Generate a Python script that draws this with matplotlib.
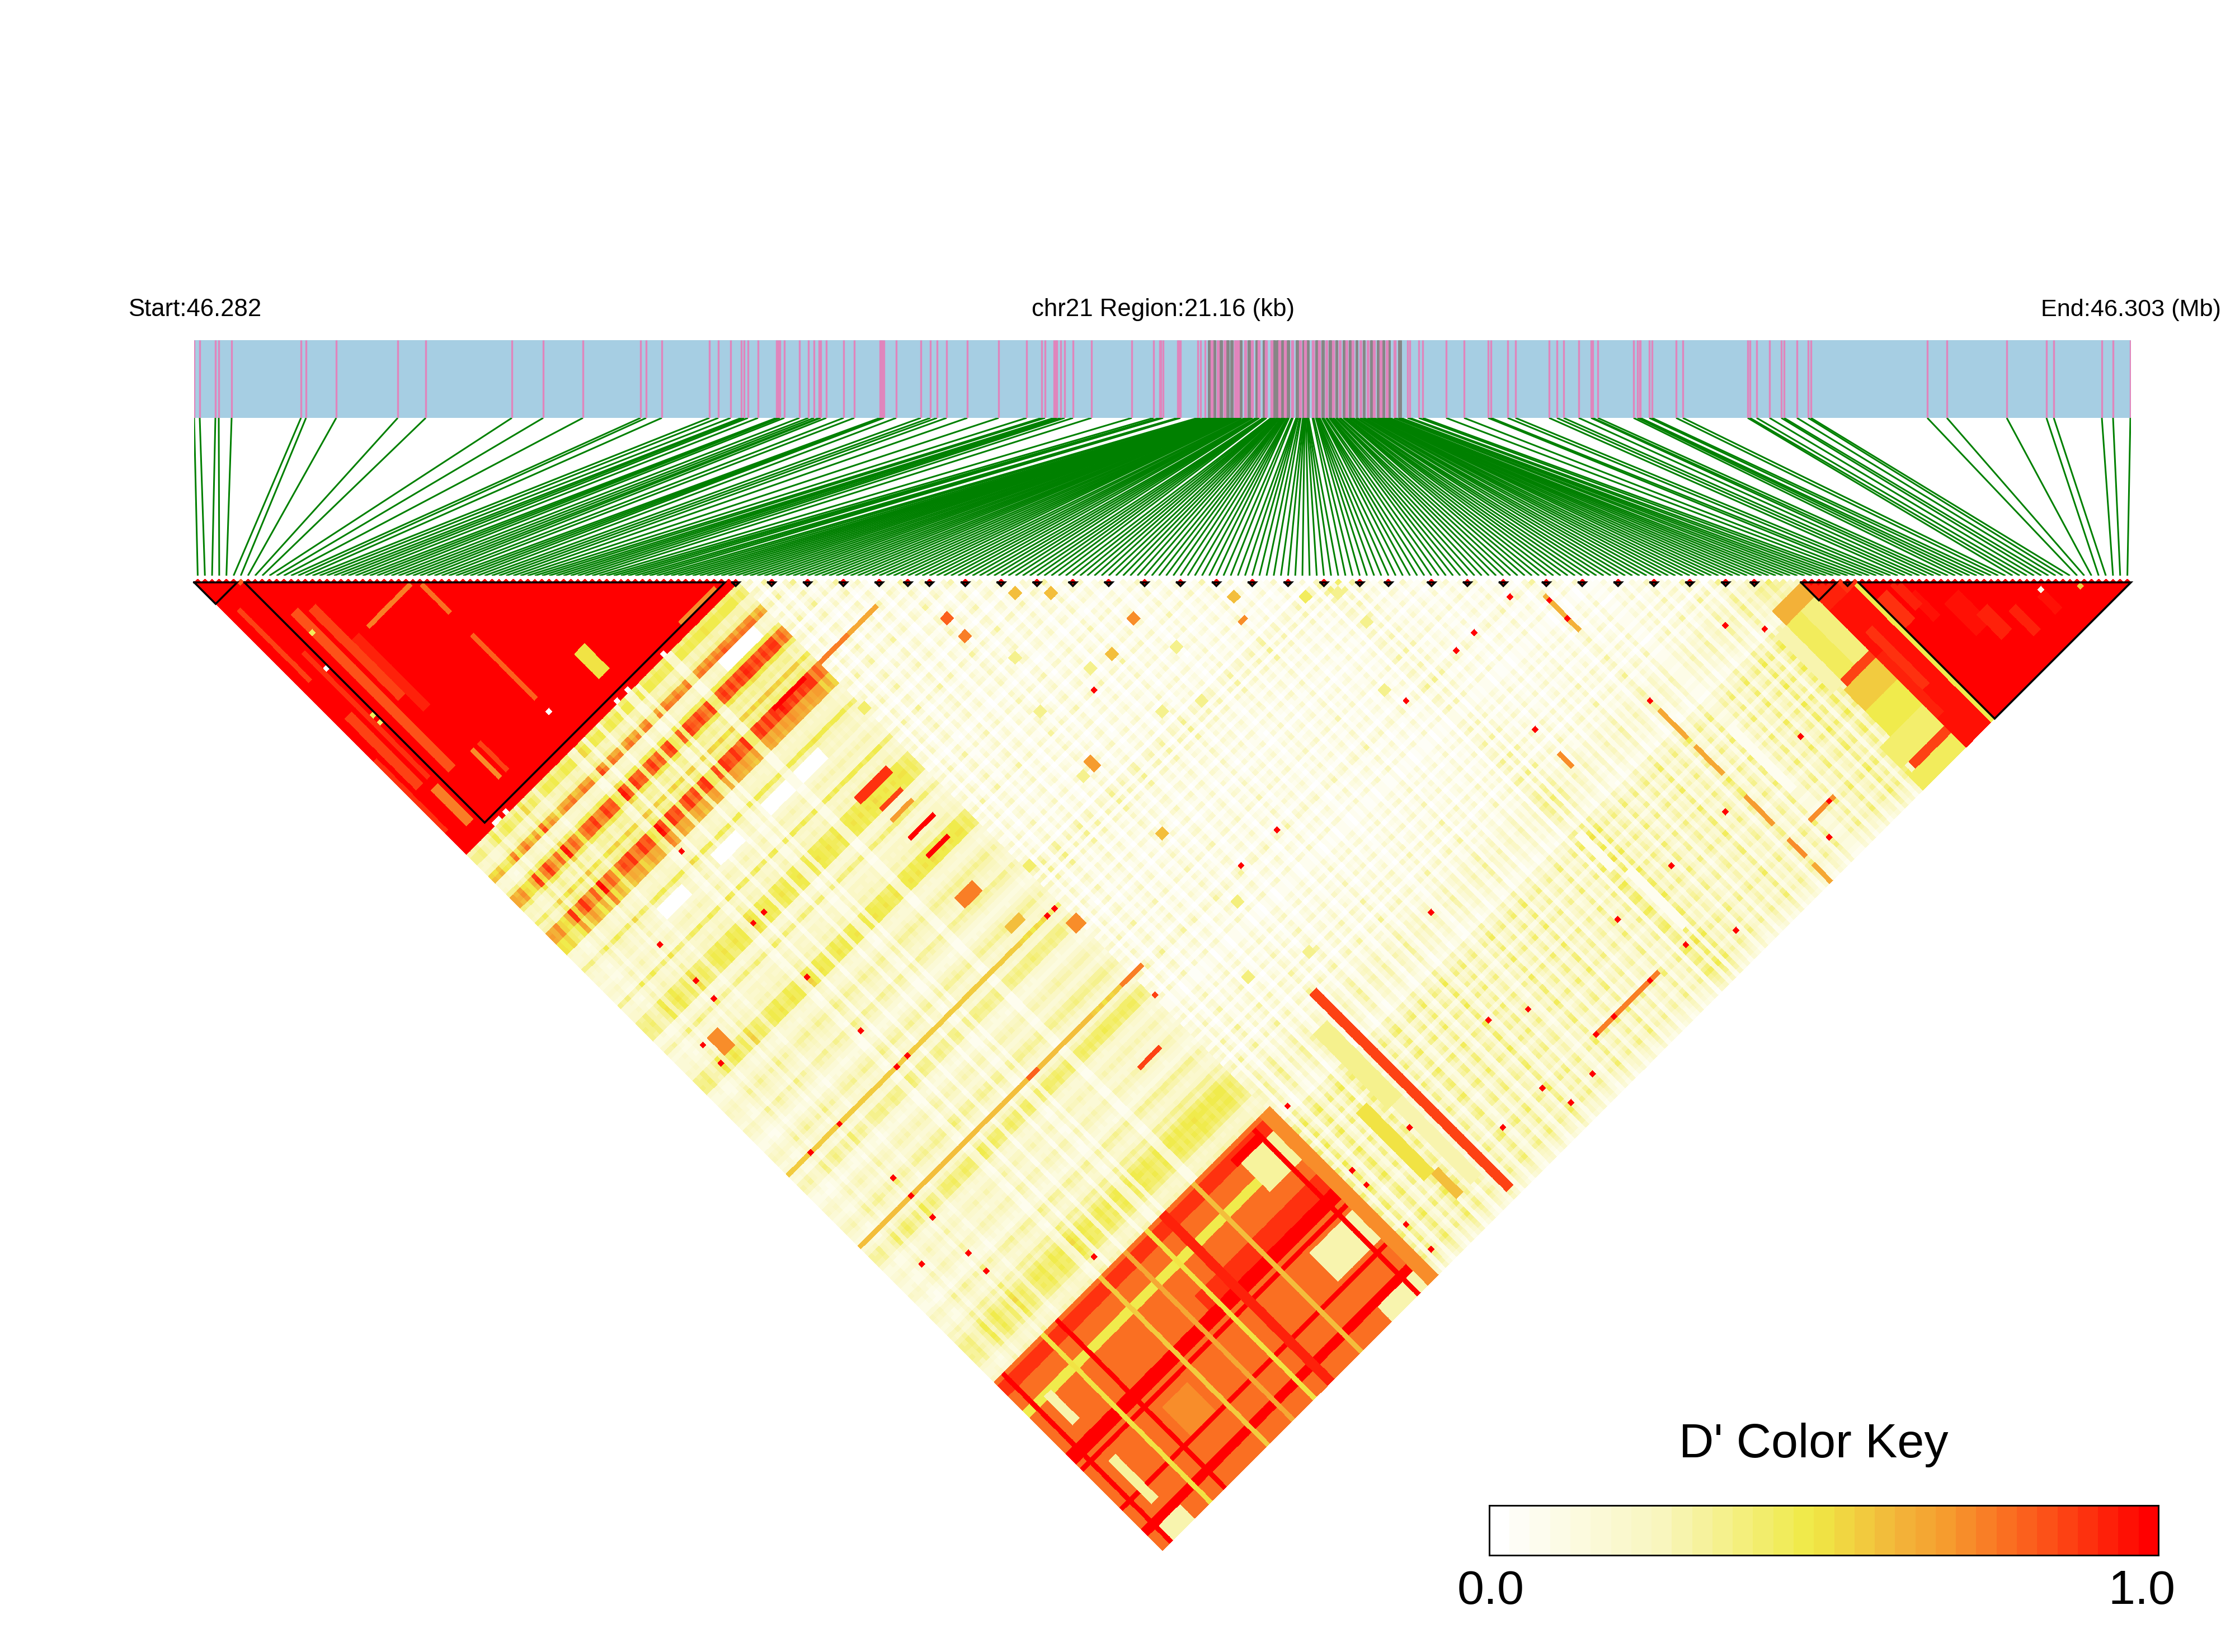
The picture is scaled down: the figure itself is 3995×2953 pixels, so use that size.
import numpy as np
import matplotlib
matplotlib.use("Agg")
import matplotlib.pyplot as plt
from matplotlib.colors import LinearSegmentedColormap
from matplotlib.collections import LineCollection

plt.rcParams['font.family'] = ['Liberation Sans', 'DejaVu Sans']

W, H = 3995, 2953
N_SNP = 270
MAP_UNITS = 3462          # map length; 1 unit is about 6 bp of the 21.16 kb region

# SNP map positions
snp_left = [0,10,38,44,67,191,200,254,364,414,568,624,695,798,808,836,
            921,937,959,978,983,990,1008,1041,1044,1047,1055,1082,1098,1108,1117,1120,1130,1161,1180,
            1226,1228,1230,1233,1255,1299,1316,1328,1345,1382,1438,1488,1515,1521,1537,1540,1542,1549,
            1556,1571,1604,1676,1715,1726,1728,1732,1758,1760,1763,1794,1799,1807]
dense_pink = [1818,1820,1829,1831,1841,1843,1860,1862,1865,1867,1878,1880,1890,1892,1902,1904,
              1915,1917,1925,1927,1939,1941,1949,1951,1962,1964,1976,1978,1985,1987,1999,2001,
              2010,2012,2023,2025,2035,2037,2047,2049,2059,2061,2070,2072,2084,2086,2097,2099,
              2108,2110,2120,2122,2131,2133,2145,2147]
dense_grey = [1813,1814,1815,1816, 1822,1823,1824,1825, 1834,1835,1836,1837, 1846,1847,1848,1849,
              1853,1854,1855,1856, 1869,1870,1871,1872, 1884,1885,1886,1887, 1898,1899,1900,1901,
              1911,1912,1913,1914, 1929,1930,1931,1932, 1935,1936,1937,1938, 1944,1945,1946,1947,
              1954,1955,1956,1957, 1970,1971,1972,1973, 1982,1983,1984,
              1989,1990,1991,1992, 2005,2006,2007,2008, 2016,2017,2018,2019, 2029,2030,2031,2032, 2041,2042,2043,
              2054,2055,2056, 2065,2066,2067, 2077,2078,2079, 2090,2091,2092, 2103,2104,2105,
              2115,2116,2117, 2125,2126,2127, 2135,2136,2137, 2153,2155,2157]
snp_right = [2169,2173,2189,2196,2238,2270,2313,2318,2348,2362,2422,2436,2448,2475,2497,2500,2509,
             2573,2580,2584,2585,2601,2606,2649,2661,2777,2781,2793,2816,2837,2842,2865,2885,2890,
             3098,3133,3240,3311,3324,3410,3430,3461]

# Per-SNP levels
mid_level = [.40,.48,.48,.30,.28,.35,.70,.78,.25,.22, .25,.48,.85,.88,.85,.50,.32,.34,.30,.55,
             .35,.40,.88,.90,.88,.68,.68,.66,.25,.22, .24,.26,.48,.30,.25,.22,.25,.18,.22,.28,
             .24,.20,.46,.24,.22,.28,.26,.46,.48,.50, .48,.46,.20,.18,.26,.40,.22,.18,.24,.22,
             .24,.30,.26,.46,.48,.50,.48,.24,.20,.18, .22,.28,.34,.30,.26,.22,.20,.34,.30,.24,
             .18,.14,.16,.24,.30,.34,.26,.20,.22,.52, .24,.20,.36,.38,.34,.20,.16,.14,.20,.26,
             .30,.24,.18,.22,.32,.36,.28,.22,.18,.56, .22,.30,.42,.44,.40,.26,.20,.18,.24,.28,
             .22,.18,.20,.30,.26,.20,.16,.14,.22,.34, .30,.22,.20,.24,.36,.30,.40,.46,.48,.44,
             .46,.44,.38,.26,.22,.24,.30]
left_factor = [.75,.7,.8,.6,.55,.7,1.0,.6,.85,1.0, .85,.7,.9,.6,1.1,.75,.9,.8,.55,.85,
               .95,.9,1.0,.8,.85,1.0,.9,.95,.55,.45, 1.1,.95,.45,1.0,.9,.95,.45,.9,1,.85,
               .95,.45,.95,1.0,.5,.45,.95,.45,1,.95, .9,1,.9,.85,1.0,.45,.45,.95,1,.9,
               1,.9,1,.95,1.05,1,.95,1,.9,1, .95,1,1,.8,.9,.8]
center_level = [.55,.62,.35,.7,.5,.3,.6,.72,.45,.35, .62,.4,.55,.7,.3,.5,.65,.42,.28,.6,
                .5,.38,.7,.55,.32,.62,.48,.3,.58,.68, .4,.3,.55,.62,.35,.5,.66,.42,.28,.6,
                .52,.36,.7,.45,.3,.58,.46,.62,.32,.5, .6,.38,.28,.55,.42,.66,.34,.48,.58,.3,
                .5,.62,.36,.44,.68,.3,.52,.4,.6,.28, .46,.56,.34,.42,.62,.3,.5,.38,.58,.26,
                .66,.72,.4,.75,.3,.7,.42,.55,.34,.6, .5,.3,.62,.44,.36,.58,.28,.48,.6,.34,
                .52,.42,.66,.3,.5,.38,.6,.46,.28,.56, .7,.4,.32,.58,.48,.3,.62,.35,.35,.35,
                .54,.4,.62,.3,.52,.44,.66,.34,.5,.58, .36,.7,.46,.62,.3,.56,.72,.42,.6,.5,
                .66,.7,.62,.75,.68,.7,.6,.66,.55,.5,.45]
right_level = [.7,.6,.8,.9,.6,.7,.85,.5,.75,.9,.6,.7,.8,.55,.9,.75,.6,.8,.85,.65,.7,.9,.75,.55,.7,.8,
               .85,.6,.7,.75,.55,.8,.9,.65,.7,.8,.6,.75,.85,.7,.65,.6,.5]

# Regions and stripes (first SNP, end SNP, first SNP, end SNP, D')
block_patches = [
    (9,11,18,62,.82),(12,14,20,45,.86),(5,6,25,60,.88),(2,3,10,30,.85),(4,6,62,72,.75),(14,16,30,50,.92),
    (2,4,40,60,.86),(0,1,50,70,.9),
    (43,46,63,70,.5),(18,30,30,31,.75),(31,32,32,40,.78),(31,32,46,64,.8),(15,16,62,70,.72),(17,18,62,70,.85),
    (62,72,73,74,.72),
    (19,26,110,113,.02),(34,41,110,113,.02),(48,55,110,113,.02),(57,64,110,113,.02),(62,72,84,87,.03),
    (0,77,223,270,.77),(0,77,224,227,.88),(40,77,239,243,.88),(0,77,243,246,1.0),(0,77,264,266,1.0),
    (64,71,225,227,1.0),(0,74,258,259,1.0),(0,77,247,248,1.0),(0,77,231,233,.48),(62,74,249,257,.3),
    (65,74,227,235,.32),(64,74,266,270,.3),(3,9,266,270,.3),(5,7,232,240,.3),(5,7,250,262,.32),
    (13,14,223,270,.5),(29,30,223,270,.55),(42,43,223,270,.5),(55,56,223,270,.6),(36,37,223,270,.66),
    (20,27,250,258,.7),(74,77,223,270,.7),(71,72,224,270,1.0),(17,18,223,270,1.0),(2,3,223,270,1.0),
    (46,48,223,270,.92),
    (88,91,236,255,.5),(90,92,255,262,.6),(93,97,219,240,.36),(94,97,240,262,.28),(98,100,213,268,.86),
    (216,224,224,228,.62),(213,216,228,244,.3),(216,220,228,244,.45),(220,224,228,244,.38),
    (216,224,243,245,.85),(215,224,245,251,.55),(215,224,251,258,.46),
    (212,224,258,264,.42),(214,224,264,266,.86),(212,224,266,270,.45),(224,232,232,270,.95),
    (226,228,240,256,.88),(224,226,245,262,.92),
    (231,232,232,270,.48),(224,229,224,232,.92),(229,232,229,232,.9),
    (241,245,247,256,.94),(244,247,253,260,.93),(249,251,257,264,.93),(237,239,241,248,.94),
    (255,257,259,264,.94),(236,238,236,244,.93),(232,235,237,245,.9),
    (193,195,234,252,.08),(159,161,240,256,.08),(157,159,228,238,.08),
    (62,71,122,124,.88),(64,70,127,128,.86),(64,70,130,131,.68),(64,71,135,136,1.0),(64,70,140,141,1.0),
    (62,67,150,153,.75),(65,69,161,163,.6),(64,70,199,200,.86),(63,72,98,99,1.0),(76,84,98,99,.75),
    (84,92,98,99,.65),(8,11,135,140,.72),(74,77,169,172,.7),(99,101,149,152,.68),(125,127,135,137,.7),
    (140,142,151,152,.7),(112,114,115,117,.58),(117,119,120,122,.6),(142,144,146,148,.58),
    (152,154,156,158,.45),(99,101,114,116,.75),(99,101,109,111,.8),(99,101,169,171,.6),(117,119,137,139,.6),
    (0,64,165,166,.55),(0,64,185,186,.58),(47,50,185,186,.8),(73,79,185,186,.75),
    (186,187,190,200,.62),(186,187,222,230,.65),(186,187,232,240,.65),(186,187,246,254,.68),
    (186,187,258,263,.7),(186,187,265,270,.65),(166,167,214,218,.7),(132,150,258,259,.75),(192,199,258,259,.7),
    (99,101,135,137,.34),(123,125,156,158,.34),(127,129,145,147,.34),(112,114,136,138,.34),(103,105,124,126,.34),
    (116,118,152,154,.34),(157,159,160,162,.34),(157,159,168,170,.34),(150,152,180,182,.34),(96,98,150,152,.34),
    (76,78,155,157,.42),(75,77,110,112,.4),(100,102,189,191,.38),(91,93,201,203,.38),(103,105,206,208,.36),
]
red_cells = [(110,140),(116,185),(106,185),(74,165),(72,165),(30,105),(33,125),(30,125),(30,140),(30,155),
             (33,165),(30,165),(14,165),(14,180),(14,185),(14,191),(14,201),(14,206),(14,130),(14,125),(14,115),
             (6,135),(6,140),(6,196),(6,165),(31,219),(181,185),(186,191),(186,196),(171,185),(166,185),
             (152,185),(166,207),(207,219),(212,225),(202,245),(186,219),(197,258),(181,245),(192,263),
             (166,245),(166,263),(126,218),(151,245),(157,258),(147,258),(126,245),(119,241),(137,258),
             (132,258),(126,263),(117,258),(119,264),(106,258),(93,245),(79,225),(79,243),(79,247),(79,258),(79,265)]
single_cells = [(6,43,.45),(6,45,.4),(9,23,.45),(6,30,.02),(31,67,.0),(55,75,.0),(45,75,.0),(42,75,.0),
                (8,75,.0),(9,75,.05),(11,75,.02),(6,6,.8),(76,191,.85),(256,258,.1),(262,263,.55)]
large_blocks = [(0,6),(7,74),(224,229),(232,270)]
small_blocks = [75,80,85,90,95,99,102,107,112,117,122,127,132,137,142,147,152,157,162,166,
                172,177,182,188,193,198,203,208,213,217,230]

scale_colors = ['#FFFFFF','#F9F6BE','#F0EA46','#F2D040','#F3B339','#F6A030','#F97E26','#FD4F18','#FF0000']
scale_stops = [0,.25,.48,.55,.62,.68,.75,.85,1]

# ---------- matrix from the lists above
D = np.zeros((N_SNP, N_SNP))
mid = np.array(mid_level); lf = np.array(left_factor)
cen = np.array(center_level); rig = np.array(right_level)
D[:76,:76] = 1.0
D[:76,76:223] = np.outer(lf, mid)
D[76:227,76:227] = np.outer(cen, cen)**1.6*1.0
D[76:227,227:] = np.outer(cen, rig)**1.3*0.85
D[227:,227:] = 1.0
for a,b,c,d,v in block_patches:
    D[a:b,c:d] = v
for i,j in red_cells:
    D[i,j] = 1.0
for i,j,v in single_cells:
    D[i,j] = v
for a,b in large_blocks:
    for k in range(a,b):
        D[k,k] = 1.0
for k in small_blocks:
    D[k,k] = 1.0
D[np.tril_indices(N_SNP,-1)] = np.nan

cmap = LinearSegmentedColormap.from_list('dprime', list(zip(scale_stops, scale_colors)), N=33)
fig = plt.figure(figsize=(W/300, H/300), dpi=300, facecolor='white')

def box(x0, y0, x1, y1):
    return [x0/W, 1-y1/H, (x1-x0)/W, (y1-y0)/H]

# ---------- map bar
bar = fig.add_axes(box(347,608,3809,747), facecolor='#A6CEE3')
bar.set_xlim(0,MAP_UNITS); bar.set_ylim(0,1); bar.axis('off')
bar.add_patch(plt.Rectangle((0,0),MAP_UNITS,1,color='#A6CEE3',zorder=0))
pink = snp_left + dense_pink + snp_right
bar.vlines(dense_grey, 0, 1, color='#868686', lw=0.72, zorder=2)
bar.vlines(pink, 0, 1, color='#E085BC', lw=0.8, zorder=3)

# ---------- connecting lines
fan = fig.add_axes(box(347,747,3809,1029))
fan.set_xlim(0,MAP_UNITS); fan.set_ylim(1,0); fan.axis('off')
positions = sorted(snp_left + dense_pink + dense_grey + snp_right)
segs = [[(p,0),((k+.5)/N_SNP*MAP_UNITS,1)] for k,p in enumerate(positions)]
fan.add_collection(LineCollection(segs, colors='#008000', linewidths=0.72))

# ---------- rotated heatmap
hm = fig.add_axes(box(347,1041-6.41,3809,2772))
hm.set_xlim(0,N_SNP); hm.set_ylim(135,-0.5); hm.axis('off')
A,B = np.meshgrid(np.arange(N_SNP+1), np.arange(N_SNP+1), indexing='ij')
hm.pcolormesh((A+B)/2, (B-A)/2, np.ma.masked_invalid(D), cmap=cmap, vmin=0, vmax=1,
              antialiased=False, linewidth=0)
for a,b in large_blocks:
    hm.plot([a,(a+b)/2,b,a],[0,(b-a)/2,0,0],color='black',lw=0.85,clip_on=False,solid_joinstyle='miter')
for k in small_blocks:
    hm.plot([k,k+.5,k+1,k],[0,.5,0,0],color='black',lw=0.85,clip_on=False,solid_joinstyle='miter')

# ---------- labels
def ftext(x,y,s,size,ha):
    fig.text(x/W,1-y/H,s,fontsize=size,ha=ha,va='baseline',color='black')
ftext(229,565,'Start:46.282',10.5,'left')
ftext(2079,565,'chr21 Region:21.16 (kb)',10.5,'center')
ftext(3970,565,'End:46.303 (Mb)',10.4,'right')
ftext(3242,2605,"D' Color Key",20.7,'center')
ftext(2665,2867,'0.0',20.7,'center')
ftext(3828,2867,'1.0',20.7,'center')

# ---------- colour key
key = fig.add_axes(box(2662,2691,3858,2780))
key.imshow(np.linspace(0,1,33)[None,:],cmap=cmap,vmin=0,vmax=1,aspect='auto',extent=[0,1,0,1],interpolation='nearest')
key.set_xticks([]); key.set_yticks([])
for s in key.spines.values():
    s.set_linewidth(0.7)

fig.savefig('out.png', dpi=300, facecolor='white')
